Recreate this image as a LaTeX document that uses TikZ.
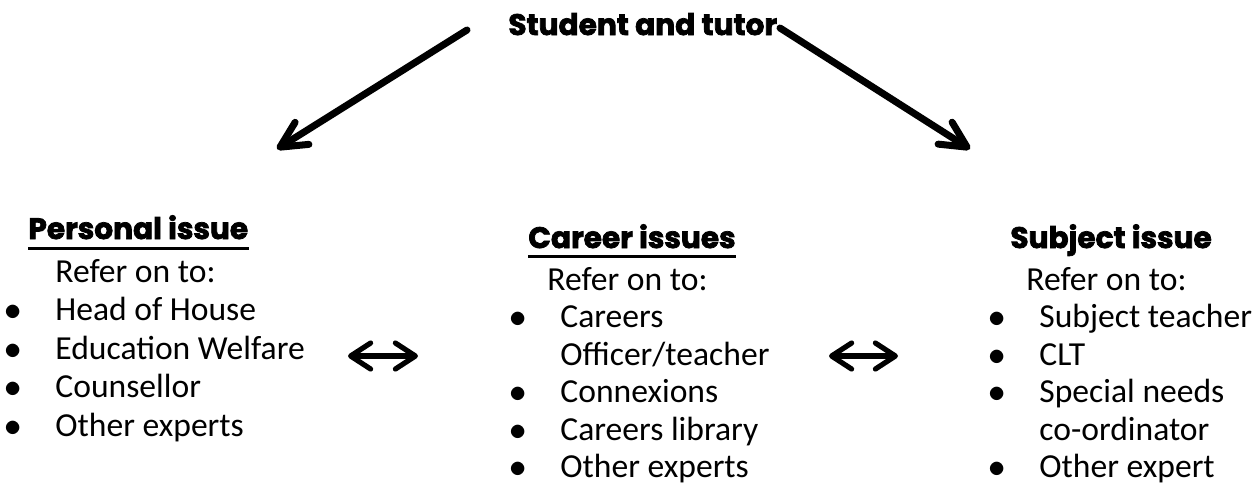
\documentclass[tikz,border=0pt]{standalone}
\usepackage{fontspec}
\setmainfont{Carlito}
\newfontfamily\headfont{Poppins}[BoldFeatures={FakeBold=2.5}]
\usetikzlibrary{arrows.meta}
\newcommand{\refitem}[1]{\makebox[0pt]{$\bullet$}\hspace{21pt}#1}
\newcommand{\refcont}[1]{\hspace{21pt}#1}
\tikzset{
	heading/.style={font=\headfont\bfseries\fontsize{14.8}{17}\selectfont, inner sep=0pt, anchor=base west},
	reflist/.style={font=\fontsize{16.8}{#1}\selectfont, inner sep=0pt, anchor=base west},
	reflist/.default=18.75pt,
	bigarrow/.style={line width=3.5pt, line cap=round, -{Straight Barb[length=13pt,width=13pt,round]}},
	dblarrow/.style={line width=2.6pt, line cap=round, {Straight Barb[length=10pt,width=13pt,round]}-{Straight Barb[length=10pt,width=13pt,round]}}
}

\begin{document}
\begin{tikzpicture}[x=0.5pt,y=-0.5pt]
				
				\useasboundingbox (0,0) rectangle (1252,484);
				
				% title and the three headings
				\node[heading] (top) at (508,35) {Student and tutor};
				
				\node[heading] (pHead) at (28,239) {Personal issue};
				\node[heading] (cHead) at (528,248) {Career issues};
				\node[heading] (sHead) at (1010,248) {Subject issue};
				
				\draw[line width=1.5pt] ([yshift=-4.5pt]pHead.base west) -- ([yshift=-4.5pt]pHead.base east);
				\draw[line width=1.5pt] ([yshift=-4pt]cHead.base west) -- ([yshift=-4pt]cHead.base east);
				
				% lists
				\node[reflist=19.25pt] (pList) at (13,282) {\begin{tabular}[t]{@{}l@{}}
						\hspace{21pt}Refer on to:\\
						\refitem{Head of House}\\
						\refitem{Education Welfare}\\
						\refitem{Counsellor}\\
						\refitem{Other experts}
					\end{tabular}};
				
				\node[reflist] (cList) at (518,290) {\begin{tabular}[t]{@{}l@{}}
						\hspace{14.5pt}Refer on to:\\
						\refitem{Careers}\\
						\refcont{Officer/teacher}\\
						\refitem{Connexions}\\
						\refitem{Careers library}\\
						\refitem{Other experts}
					\end{tabular}};
				
				\node[reflist] (sList) at (997,290) {\begin{tabular}[t]{@{}l@{}}
						\hspace{14.5pt}Refer on to:\\
						\refitem{Subject teacher}\\
						\refitem{CLT}\\
						\refitem{Special needs}\\
						\refcont{co-ordinator}\\
						\refitem{Other expert}
					\end{tabular}};
				
				% arrows
				\coordinate (pStart) at (467,30);
				\coordinate (pTip) at (277,149);
				\coordinate (sStart) at (780,28);
				\coordinate (sTip) at (970,149);
				
				\draw[bigarrow] (pStart) -- (pTip);
				\draw[bigarrow] (sStart) -- (sTip);
				
				\coordinate (pcL) at (348,356);
				\coordinate (pcR) at (418,356);
				\coordinate (csL) at (829,356);
				\coordinate (csR) at (898,356);
				
				\draw[dblarrow] (pcL) -- (pcR);
				\draw[dblarrow] (csL) -- (csR);
				
			\end{tikzpicture}
\end{document}
